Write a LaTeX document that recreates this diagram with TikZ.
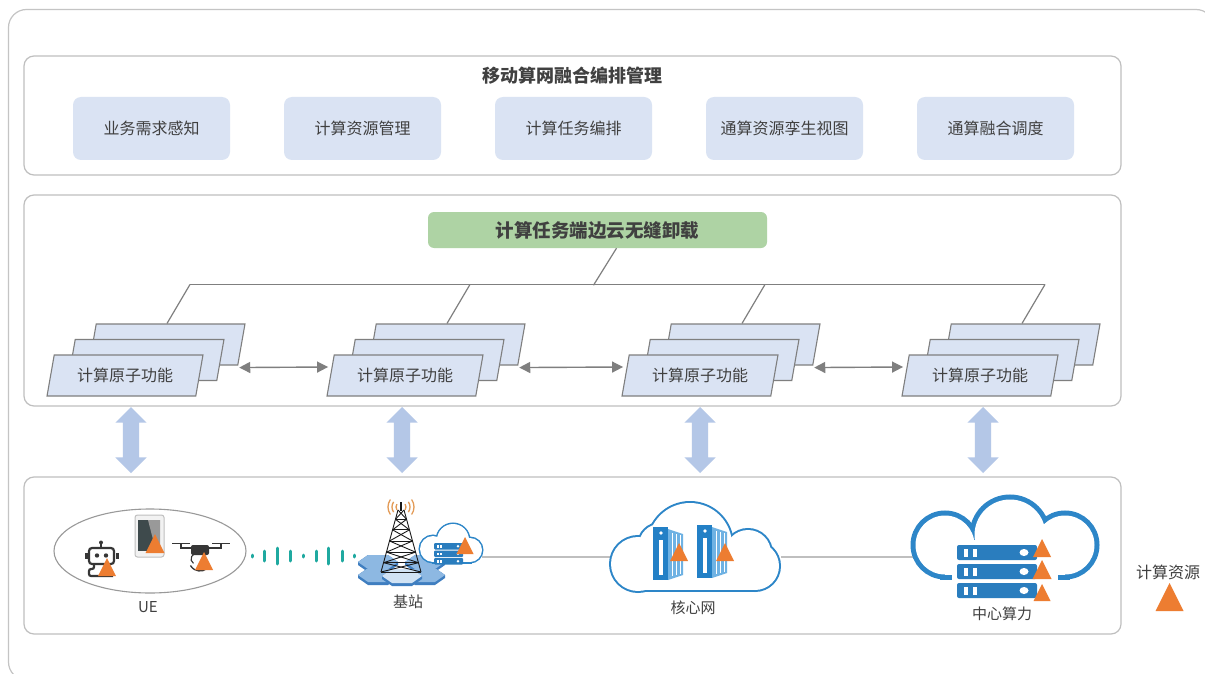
\documentclass[tikz,border=0pt]{standalone}
\usepackage{fontspec}
\setmainfont{Noto Sans CJK SC}
\usetikzlibrary{shapes.geometric,shapes.arrows,calc,arrows.meta}

\definecolor{frameC}{HTML}{C4C4C4}
\definecolor{boxC}{HTML}{BFBFBF}
\definecolor{tileC}{HTML}{DAE3F3}
\definecolor{greenC}{HTML}{AED3A4}
\definecolor{lineC}{HTML}{7F7F7F}
\definecolor{arrowC}{HTML}{B4C7E7}
\definecolor{txtC}{HTML}{404040}
\definecolor{orangeC}{HTML}{ED7D31}
\definecolor{cloudC}{HTML}{2D86C8}
\definecolor{serverC}{HTML}{2A7DBE}
\definecolor{tealC}{HTML}{1FA9A0}
\definecolor{linkC}{HTML}{BFBFBF}
\definecolor{iconC}{HTML}{363636}
\definecolor{screenC}{HTML}{3E4A4C}
\definecolor{waveC}{HTML}{E39A55}
\definecolor{hexDark}{HTML}{3F7EC0}
\definecolor{hexTop}{HTML}{8DB8E2}
\definecolor{cabFront}{HTML}{2380C6}
\definecolor{cabSide}{HTML}{6FB2E3}

% orange compute-resource marker: apex x, apex y, size
\newcommand{\resmark}[3]{\fill[orangeC] (#1,#2) -- ({#1-#3/2},{#2+#3}) -- ({#1+#3/2},{#2+#3}) -- cycle;}

\begin{document}
\begin{tikzpicture}[x=1pt,y=-1pt,
  every node/.style={text=txtC},
  panel/.style={draw=boxC, line width=1.2pt, rounded corners=10pt, minimum width=1097pt, inner sep=0pt},
  tile/.style={fill=tileC, rounded corners=8pt, minimum width=157pt, minimum height=63pt, inner sep=0pt, font=\fontsize{16}{18}\selectfont},
  para/.style={trapezium, trapezium left angle=76, trapezium right angle=104, trapezium stretches=true,
    minimum width=156pt, minimum height=41pt, inner sep=3pt, draw=lineC, line width=1.1pt, fill=tileC,
    font=\fontsize{16}{18}\selectfont},
  tree/.style={draw=lineC, line width=1.2pt},
  hop/.style={draw=lineC, line width=1.4pt, {Triangle[length=11pt,width=11pt]}-{Triangle[length=11pt,width=11pt]}},
  updown/.style={double arrow, fill=arrowC, rotate=90, minimum height=66pt, minimum width=31pt,
    double arrow head extend=7.5pt, inner xsep=0pt, inner ysep=8pt},
  link/.style={draw=linkC, line width=1.5pt},
  caption/.style={font=\fontsize{15}{17}\selectfont}
]
\useasboundingbox (0,0) rectangle (1205,674);
\clip (0,0) rectangle (1205,674);
\fill[white] (0,0) rectangle (1205,674);
\draw[frameC, line width=1.2pt, rounded corners=18pt] (8.5,9.5) rectangle (1214,680);

% ---------- orchestration layer ----------
\node[panel, minimum height=119pt] (mgmt) at (572.5,115.5) {};
\node[font=\bfseries\fontsize{18}{20}\selectfont] (mgmtT) at (572,76) {移动算网融合编排管理};
\foreach \n/\x/\t in {1/151.5/业务需求感知, 2/362.5/计算资源管理, 3/573.5/计算任务编排, 4/784.5/通算资源孪生视图, 5/995.5/通算融合调度}
  \node[tile] (fn\n) at (\x,128.5) {\t};

% ---------- offloading layer ----------
\node[panel, minimum height=211pt] (offl) at (572.5,300.5) {};
\node[fill=greenC, rounded corners=6pt, minimum width=339pt, minimum height=36pt, inner sep=0pt,
  font=\bfseries\fontsize{18.5}{20}\selectfont] (task) at (597.5,230) {计算任务端边云无缝卸载};

\foreach \n/\x in {1/125, 2/405, 3/700, 4/980} {
  \node[para] (gc\n) at ({\x+42},344.5) {\phantom{计算原子功能}};
  \node[para] (gb\n) at ({\x+21},360) {\phantom{计算原子功能}};
  \node[para] (ga\n) at (\x,375.5) {计算原子功能};
}

\foreach \n in {1,...,4}
  \draw[tree] (gc\n.north) -- ++(23,-39) coordinate (bus\n);
\draw[tree] (bus1) -- (bus4);
\draw[tree] ($(task.south)+(19,0)$) -- ++(-23,37);

\foreach \a/\b in {1/2, 2/3, 3/4}
  \draw[hop] ($(gc\a.bottom right corner)+(1,2)$) -- ($(ga\b.west)+(-2,-8.5)$);

\foreach \n/\x in {1/131, 2/402, 3/700, 4/983}
  \node[updown] (ud\n) at (\x,440) {};

% ---------- infrastructure layer ----------
\node[panel, minimum height=157pt] (infra) at (572.5,555.5) {};

\coordinate (bsE) at (482,557);
\coordinate (coreW) at (612,557);
\coordinate (coreE) at (781,557);
\coordinate (dcW) at (914,557);
\draw[link] (bsE) -- (coreW);
\draw[link] (coreE) -- (dcW);

% UE group
\node[ellipse, draw=black!40, line width=1.1pt, minimum width=192pt, minimum height=84pt] (ue) at (150,551) {};
\node[caption] (ueL) at (148,607) {UE};

% robot
\begin{scope}[iconC]
  \fill (101,542.5) circle[radius=2];
  \draw[line width=1.5pt] (101,544) -- (101,548);
  \draw[line width=2.2pt, rounded corners=3pt] (89,548) rectangle (114,564);
  \fill (97,555.5) circle[radius=2.2];
  \fill (106,555.5) circle[radius=2.2];
  \fill (84.5,553) rectangle (87.5,559);
  \fill (115.5,553) rectangle (118.5,559);
  \draw[line width=2.2pt, rounded corners=2pt] (94,565) -- (94,569) -- (89,569) -- (89,576) -- (113,576);
\end{scope}
\resmark{107}{558}{18}

% phone
\draw[fill=black!5, draw=black!25, line width=1pt, rounded corners=2.5pt] (135,515) rectangle (164,557);
\fill[screenC] (138,520) rectangle (160,551);
\fill[black!40] (148,520) -- (160,520) -- (160,551) -- (156,551) -- cycle;
\resmark{155}{534}{19}

% drone
\begin{scope}[iconC]
  \draw[line width=2pt] (181,548) -- (221,548);
  \fill[rounded corners=2pt] (191,545) rectangle (209,555);
  \draw[line width=1.6pt] (172,543.5) -- (190,543.5) (212,543.5) -- (230,543.5);
  \draw[line width=1.5pt] (181,543.5) -- (181,549) (221,543.5) -- (221,549);
  \draw[line width=1.3pt] (200,560) ++(30:11) arc (30:150:11);
  \draw[line width=1.1pt] (196,559) ++(120:5) arc (120:240:5);
\end{scope}
\resmark{204}{552}{18}

% radio link
\foreach \x/\h in {252/1, 264/5, 277/8, 290/5, 303/1, 316/5, 328/8, 342/5, 354/1}
  \draw[tealC, line width=3pt, line cap=round] (\x,{556-\h}) -- (\x,{556+\h});

% base station: tile platform
\foreach \hx/\hy/\c in {378/562/hexTop, 425/562/hexTop, 378/575/hexTop, 425/575/hexTop, 402/576/hexTop!40!white} {
  \fill[hexDark] ({\hx-20},\hy) -- ({\hx-10},{\hy-7}) -- ({\hx+10},{\hy-7}) -- ({\hx+20},\hy)
     -- ({\hx+20},{\hy+3}) -- ({\hx+10},{\hy+10}) -- ({\hx-10},{\hy+10}) -- ({\hx-20},{\hy+3}) -- cycle;
  \fill[\c] ({\hx-20},\hy) -- ({\hx-10},{\hy-7}) -- ({\hx+10},{\hy-7}) -- ({\hx+20},\hy)
     -- ({\hx+10},{\hy+7}) -- ({\hx-10},{\hy+7}) -- cycle;
}

% base station: edge cloud with server
\foreach \cx/\cy/\r in {433/549/13, 453/540/16, 470/550/12}
  \draw[cloudC, line width=3pt] (\cx,\cy) circle[radius=\r];
\draw[cloudC, line width=3pt] (433,545) rectangle (470,562);
\foreach \cx/\cy/\r in {433/549/13, 453/540/16, 470/550/12}
  \fill[white] (\cx,\cy) circle[radius=\r];
\fill[white] (433,545) rectangle (470,562);
\foreach \sy in {543, 550.5, 558} {
  \fill[serverC, rounded corners=1pt] (434,\sy) rectangle (463,{\sy+6.5});
  \fill[white] (437,{\sy+2}) rectangle (438.5,{\sy+4.5});
  \fill[white] (440,{\sy+2}) rectangle (441.5,{\sy+4.5});
  \fill[white] (458,{\sy+3.25}) circle[radius=1.3];
}
\resmark{465}{537}{17}

% base station: lattice tower
\begin{scope}[black!90, line width=0.9pt]
  \draw (398,510) -- (381,572) (404,510) -- (421,572);
  \foreach \a/\b in {0/0.15, 0.15/0.32, 0.32/0.5, 0.5/0.68, 0.68/0.85, 0.85/1} {
    \draw ({398-17*\a},{510+62*\a}) -- ({404+17*\b},{510+62*\b});
    \draw ({404+17*\a},{510+62*\a}) -- ({398-17*\b},{510+62*\b});
    \draw ({398-17*\b},{510+62*\b}) -- ({404+17*\b},{510+62*\b});
  }
  \draw[line width=1.6pt] (401,502) -- (401,511);
\end{scope}
\foreach \r in {5,9,13} {
  \draw[waveC, line width=1.3pt] (401,507) ++(145:\r) arc (145:215:\r);
  \draw[waveC, line width=1.3pt] (401,507) ++(-35:\r) arc (-35:35:\r);
}
\node[caption] (bsL) at (408,602) {基站};

% core network cloud with two cabinets
\foreach \cx/\cy/\r in {638/564/27, 660/545/21, 690/545/42, 748/553/23, 755/566/24}
  \draw[cloudC, line width=4pt] (\cx,\cy) circle[radius=\r];
\draw[cloudC, line width=4pt] (638,560) rectangle (755,590);
\foreach \cx/\cy/\r in {638/564/27, 660/545/21, 690/545/42, 748/553/23, 755/566/24}
  \fill[white] (\cx,\cy) circle[radius=\r];
\fill[white] (638,560) rectangle (755,590);
\foreach \dx/\dy in {0/0, 44/-2} {
  \begin{scope}[shift={(\dx,\dy)}]
    \fill[cabFront] (653,527) rectangle (668,580);
    \fill[cabSide] (668,529) -- (683,534) -- (683,575) -- (668,580) -- cycle;
    \draw[white, line width=0.6pt] (672,533) -- (672,576) (676,534) -- (676,575) (680,535) -- (680,574);
    \fill[white] (659,540) rectangle (663,575);
    \fill[white] (661,533) circle[radius=1.8];
  \end{scope}
}
\resmark{679}{543}{18}
\resmark{725}{543}{18}
\node[caption] (coreL) at (693,608) {核心网};

% central compute cloud with server stack
\foreach \cx/\cy/\r in {945/545/29.5, 1010/535/35.5, 1065/545/29.5}
  \draw[cloudC, line width=10pt] (\cx,\cy) circle[radius=\r];
\draw[cloudC, line width=10pt] (945,540) rectangle (1065,574.5);
\foreach \cx/\cy/\r in {945/545/29.5, 1010/535/35.5, 1065/545/29.5}
  \fill[white] (\cx,\cy) circle[radius=\r];
\fill[white] (945,540) rectangle (1065,574.5);
\fill[white] (952,566) rectangle (1058,586);
\foreach \sy in {545, 564, 583} {
  \fill[serverC, rounded corners=2pt] (957,\sy) rectangle (1037,{\sy+15});
  \fill[white] (963.5,{\sy+3.5}) rectangle (967.5,{\sy+11.5});
  \fill[white] (973,{\sy+3.5}) rectangle (977,{\sy+11.5});
  \fill[white] (1024,{\sy+7.5}) ellipse[x radius=4.5, y radius=3.5];
}
\resmark{1042}{539}{18}
\resmark{1042}{560}{19}
\resmark{1042}{584}{17}
\node[caption] (dcL) at (1002,614) {中心算力};

% legend
\node[font=\fontsize{16}{18}\selectfont] (legT) at (1168,572) {计算资源};
\resmark{1169.5}{583}{28}
\end{tikzpicture}
\end{document}
